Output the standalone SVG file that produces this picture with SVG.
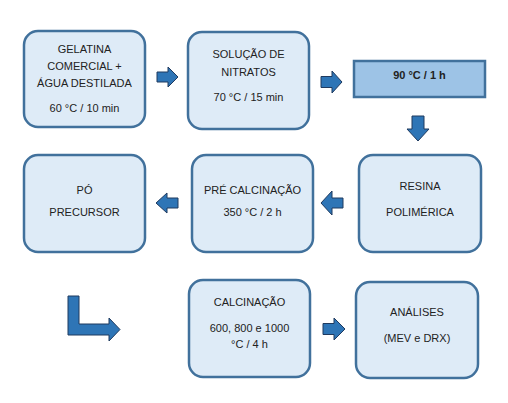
<svg xmlns="http://www.w3.org/2000/svg" width="508" height="403" viewBox="0 0 508 403">
<style>
.box{fill:#DEEBF7;stroke:#41719C;stroke-width:2.5}
.box3{fill:#9DC3E6;stroke:#41719C;stroke-width:2.5}
.arr{fill:#2E75B6;stroke:#1F3A5F;stroke-width:1;stroke-linejoin:miter}
text{font-family:"Liberation Sans",Arial,sans-serif;font-size:11px;fill:#222;text-anchor:middle}
.b{font-weight:bold}
</style>
<rect width="508" height="403" fill="#fff"/>
<g id="n1"><rect class="box" x="24" y="31" width="121" height="96" rx="14"/>
<text x="84.5" y="53">GELATINA</text><text x="84.5" y="70">COMERCIAL +</text><text x="84.5" y="87">ÁGUA DESTILADA</text><text x="84.5" y="112">60 °C / 10 min</text></g>
<g id="n2"><rect class="box" x="188" y="32" width="121" height="97" rx="14"/>
<text x="248.5" y="58">SOLUÇÃO DE</text><text x="248.5" y="76">NITRATOS</text><text x="248.5" y="101">70 °C / 15 min</text></g>
<g id="n3"><rect class="box3" x="354" y="61" width="131" height="36"/>
<text class="b" x="419.5" y="79">90 °C / 1 h</text></g>
<g id="n4"><rect class="box" x="24" y="155" width="121" height="97" rx="14"/>
<text x="84.5" y="194">PÓ</text><text x="84.5" y="216">PRECURSOR</text></g>
<g id="n5"><rect class="box" x="192" y="155" width="121" height="97" rx="14"/>
<text x="252.5" y="194">PRÉ CALCINAÇÃO</text><text x="252.5" y="216">350 °C / 2 h</text></g>
<g id="n6"><rect class="box" x="359" y="155" width="122" height="97" rx="14"/>
<text x="420" y="190">RESINA</text><text x="420" y="216">POLIMÉRICA</text></g>
<g id="n7"><rect class="box" x="189" y="280" width="121" height="97" rx="14"/>
<text x="249.5" y="306">CALCINAÇÃO</text><text x="249.5" y="332">600, 800 e 1000</text><text x="249.5" y="348">°C / 4 h</text></g>
<g id="n8"><rect class="box" x="356" y="282" width="122" height="96" rx="14"/>
<text x="417" y="316">ANÁLISES</text><text x="417" y="342">(MEV e DRX)</text></g>
<g id="connectors">
<path class="arr" d="M157,72 H168 V67 L178,77 L168,87 V82 H157 Z"/>
<path class="arr" d="M321,76.5 H332 V71 L342,82 L332,93 V87.5 H321 Z"/>
<path class="arr" d="M412,116 H424 V129 H429 L418,141 L407,129 H412 Z"/>
<path class="arr" d="M343,198 H332 V191 L321,203 L332,215 V208 H343 Z"/>
<path class="arr" d="M178,198 H167 V193 L156,203 L167,213 V208 H178 Z"/>
<path class="arr" d="M68,296 H79 V324 H109 V318 L120,329.5 L109,341 V335 H68 Z"/>
<path class="arr" d="M323,323.5 H334 V318 L345,329 L334,340 V334.5 H323 Z"/>
</g>
</svg>
